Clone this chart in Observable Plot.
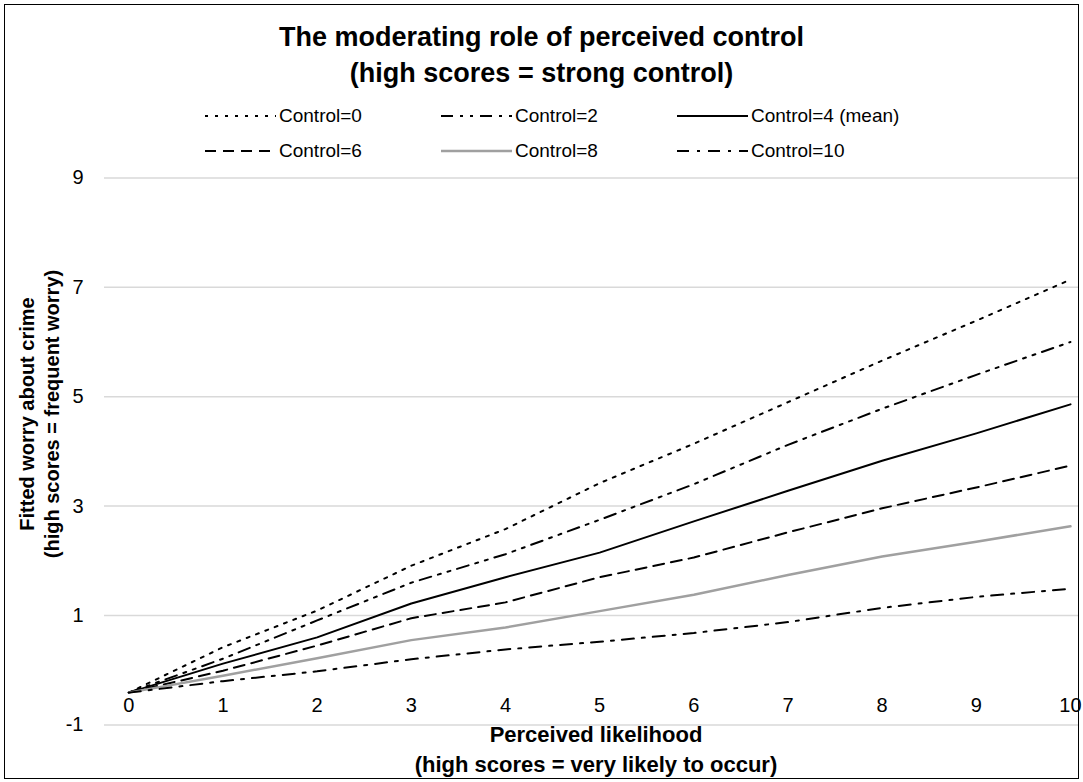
<!DOCTYPE html>
<html><head><meta charset="utf-8">
<script src="https://cdn.jsdelivr.net/npm/d3@7"></script>
<script src="https://cdn.jsdelivr.net/npm/@observablehq/plot@0.6"></script>
<style>
body{margin:0;background:#fff;font-family:"Liberation Sans",Arial,sans-serif;color:#000;}
#wrap{position:relative;width:1083px;height:782px;overflow:hidden;}
#frame{position:absolute;left:4px;top:4px;width:1075px;height:775px;border:1px solid #000;box-sizing:border-box;pointer-events:none;}
#chart{position:absolute;left:0;top:0;}
.t{position:absolute;white-space:nowrap;font-weight:bold;text-align:center;}
.leg{position:absolute;display:flex;align-items:center;white-space:nowrap;font-size:19px;}
.leg svg{margin-right:3px;}
</style></head>
<body>
<div id="wrap">
  <div id="chart"></div>
  <div class="t" style="left:0;width:1083px;top:19px;font-size:27px;line-height:36px;">The moderating role of perceived control<br>(high scores = strong control)</div>
  <div id="legend"></div>
  <div class="t" style="left:104px;width:984px;top:720px;font-size:22px;line-height:30px;">Perceived likelihood<br>(high scores = very likely to occur)</div>
  <div class="t" style="left:-170px;top:389px;width:420px;font-size:20px;line-height:25px;transform:rotate(-90deg);transform-origin:50% 50%;">Fitted worry about crime<br>(high scores = frequent worry)</div>
  <div id="frame"></div>
</div>
<script>
const xValues = [0, 1, 2, 3, 4, 5, 6, 7, 8, 9, 10];
const xTicks = [0, 1, 2, 3, 4, 5, 6, 7, 8, 9, 10];
const yTicks = [-1, 1, 3, 5, 7, 9];
const seriesNames = ["Control=0", "Control=2", "Control=4 (mean)", "Control=6", "Control=8", "Control=10"];
const control0 = [-0.41, 0.42, 1.09, 1.91, 2.58, 3.42, 4.14, 4.90, 5.66, 6.39, 7.14];
const control2 = [-0.41, 0.21, 0.91, 1.60, 2.12, 2.75, 3.40, 4.12, 4.78, 5.40, 6.00];
const control4 = [-0.41, 0.12, 0.60, 1.22, 1.70, 2.15, 2.72, 3.28, 3.83, 4.33, 4.86];
const control6 = [-0.41, -0.01, 0.45, 0.95, 1.24, 1.70, 2.06, 2.52, 2.96, 3.34, 3.74];
const control8 = [-0.41, -0.10, 0.22, 0.55, 0.78, 1.08, 1.38, 1.74, 2.08, 2.35, 2.63];
const control10 = [-0.41, -0.20, -0.02, 0.20, 0.38, 0.52, 0.68, 0.88, 1.14, 1.34, 1.49];

const seriesValues = [control0, control2, control4, control6, control8, control10];
const styles = [
  {stroke: "#000", strokeWidth: 2, dash: "3,7"},
  {stroke: "#000", strokeWidth: 2, dash: "12,7,3,7,3,7"},
  {stroke: "#000", strokeWidth: 2, dash: null},
  {stroke: "#000", strokeWidth: 2, dash: "11,7"},
  {stroke: "#a0a0a0", strokeWidth: 2.5, dash: null},
  {stroke: "#000", strokeWidth: 2, dash: "12,8,3,8"}
];

const rows = [];
seriesNames.forEach((name, i) => xValues.forEach((x, j) => rows.push({series: name, x, y: seriesValues[i][j]})));

const lineMarks = seriesNames.map((name, i) => Plot.line(rows.filter(d => d.series === name), {
  x: "x", y: "y", stroke: styles[i].stroke, strokeWidth: styles[i].strokeWidth,
  strokeDasharray: styles[i].dash || undefined, strokeLinejoin: "round"
}));

const plot = Plot.plot({
  width: 1083, height: 782,
  marginLeft: 104, marginRight: 5, marginTop: 177.4, marginBottom: 57.6,
  x: {domain: [-0.258, 10.085], axis: null},
  y: {domain: [-1, 9]},
  style: {fontFamily: '"Liberation Sans", Arial, sans-serif', fontSize: "20px", color: "#000", background: "transparent", overflow: "visible"},
  marks: [
    Plot.gridY(yTicks, {stroke: "#d9d9d9", strokeOpacity: 1, strokeWidth: 1.5}),
    Plot.axisY(yTicks, {tickSize: 0, tickPadding: 21, fontSize: 20, label: null, tickFormat: d => String(d)}),
    Plot.text(xTicks, {x: d => d, y: () => -0.65, text: d => String(d), fontSize: 20}),
    ...lineMarks
  ]
});
document.getElementById("chart").appendChild(plot);

// legend
const legendPos = [
  {x: 205, y: 116}, {x: 441, y: 116}, {x: 677, y: 116},
  {x: 205, y: 151}, {x: 441, y: 151}, {x: 677, y: 151}
];
const legend = document.getElementById("legend");
seriesNames.forEach((name, i) => {
  const div = document.createElement("div");
  div.className = "leg";
  div.style.left = legendPos[i].x + "px";
  div.style.top = (legendPos[i].y - 12) + "px";
  div.style.height = "24px";
  const s = styles[i];
  div.innerHTML = `<svg width="71" height="10"><line x1="0" y1="5" x2="71" y2="5" stroke="${s.stroke}" stroke-width="${s.strokeWidth}" ${s.dash ? `stroke-dasharray="${s.dash}"` : ""}/></svg><span>${name}</span>`;
  legend.appendChild(div);
});
</script>
</body></html>
